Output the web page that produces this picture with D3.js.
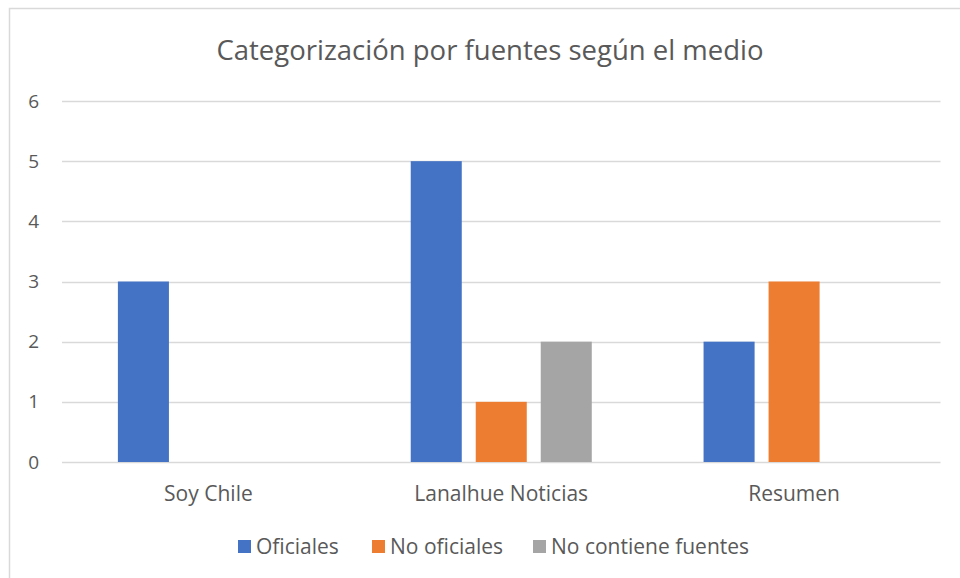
<!DOCTYPE html>
<html>
<head>
<meta charset="utf-8">
<script src="https://cdn.jsdelivr.net/npm/d3@7"></script>
<style>
body { margin: 0; background: #fff; }
text { font-family: "Open Sans", sans-serif; fill: #595959; }
</style>
</head>
<body>
<svg width="960" height="578"></svg>
<script>
// chart data
var categories = ["Soy Chile", "Lanalhue Noticias", "Resumen"]
var seriesNames = ["Oficiales", "No oficiales", "No contiene fuentes"]
var oficiales = [3, 5, 2]
var noOficiales = [0, 1, 3]
var noContiene = [0, 2, 0]
var yTicks = [0, 1, 2, 3, 4, 5, 6]
var colors = ["#4472C4", "#ED7D31", "#A5A5A5"]

var seriesValues = [oficiales, noOficiales, noContiene]

var svg = d3.select("svg")

// chart frame (cropped at right and bottom like the original)
svg.append("rect")
	.attr("x", 9.5).attr("y", 8.5)
	.attr("width", 970).attr("height", 600)
	.attr("fill", "none")
	.attr("stroke", "#D9D9D9")
	.attr("stroke-width", 1.5)

// title
svg.append("text")
	.attr("x", 490).attr("y", 60)
	.attr("text-anchor", "middle")
	.style("font-size", "27.5px")
	.text("Categorización por fuentes según el medio")

var x0 = d3.scaleBand().domain(categories).range([62, 940.5])
var x1 = d3.scaleBand().domain(seriesNames).range([0, x0.bandwidth()])
	.paddingInner(0.215).paddingOuter(0.86)
var y = d3.scaleLinear().domain([0, 6]).range([462, 101])

// gridlines
svg.append("g").selectAll("line")
	.data(yTicks)
	.enter().append("line")
		.attr("x1", 62).attr("x2", 940.5)
		.attr("y1", function(d) { return Math.round(y(d)) + 0.5 })
		.attr("y2", function(d) { return Math.round(y(d)) + 0.5 })
		.attr("stroke", "#D9D9D9")
		.attr("stroke-width", 1.5)

// y tick labels
svg.append("g").selectAll("text")
	.data(yTicks)
	.enter().append("text")
		.attr("x", 39)
		.attr("y", function(d) { return y(d) })
		.attr("dy", "0.35em")
		.attr("text-anchor", "end")
		.style("font-size", "19px")
		.text(function(d) { return d })

// bars
var groups = svg.append("g").selectAll("g")
	.data(categories)
	.enter().append("g")
		.attr("transform", function(d) { return "translate(" + x0(d) + ",0)" })

groups.selectAll("rect")
	.data(function(d, i) {
		return seriesNames.map(function(s, j) { return { key: s, value: seriesValues[j][i], color: colors[j] } })
	})
	.enter().append("rect")
		.attr("x", function(d) { return x1(d.key) })
		.attr("y", function(d) { return y(d.value) })
		.attr("width", x1.bandwidth())
		.attr("height", function(d) { return y(0) - y(d.value) })
		.attr("fill", function(d) { return d.color })

// category labels
svg.append("g").selectAll("text")
	.data(categories)
	.enter().append("text")
		.attr("x", function(d) { return x0(d) + x0.bandwidth() / 2 })
		.attr("y", 501)
		.attr("text-anchor", "middle")
		.style("font-size", "21px")
		.text(function(d) { return d })

// legend
var legendX = [238, 372, 533]
var legend = svg.append("g").selectAll("g")
	.data(seriesNames)
	.enter().append("g")
		.attr("transform", function(d, i) { return "translate(" + legendX[i] + ",540)" })

legend.append("rect")
	.attr("width", 13).attr("height", 13)
	.attr("fill", function(d, i) { return colors[i] })

legend.append("text")
	.attr("x", 18).attr("y", 14)
	.style("font-size", "21px")
	.text(function(d) { return d })
</script>
</body>
</html>
